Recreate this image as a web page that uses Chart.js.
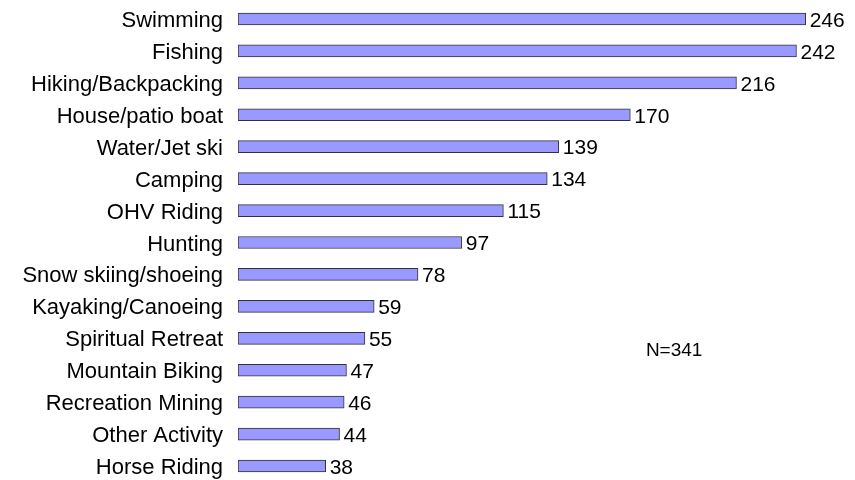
<!DOCTYPE html>
<html>
<head>
<meta charset="utf-8">
<script src="https://cdn.jsdelivr.net/npm/chart.js@4"></script>
<style>
  html, body { margin: 0; padding: 0; background: #fff; overflow: hidden; }
  canvas { display: block; }
</style>
</head>
<body>
<canvas id="activityChart" width="855" height="485"></canvas>
<script>
const activities = ['Swimming', 'Fishing', 'Hiking/Backpacking', 'House/patio boat', 'Water/Jet ski',
  'Camping', 'OHV Riding', 'Hunting', 'Snow skiing/shoeing', 'Kayaking/Canoeing',
  'Spiritual Retreat', 'Mountain Biking', 'Recreation Mining', 'Other Activity', 'Horse Riding'];
const counts = [246, 242, 216, 170, 139, 134, 115, 97, 78, 59, 55, 47, 46, 44, 38];
const sampleNote = 'N=341';

const FONT = 'Liberation Sans, Arial, sans-serif';

// draws the number next to each bar + the N= note
const valueLabels = {
  id: 'valueLabels',
  afterDatasetsDraw(chart) {
    const ctx = chart.ctx;
    const meta = chart.getDatasetMeta(0);
    ctx.save();
    ctx.font = '21px ' + FONT;
    ctx.fillStyle = '#000';
    ctx.textBaseline = 'middle';
    ctx.textAlign = 'left';
    meta.data.forEach((bar, i) => {
      ctx.fillText(String(counts[i]), bar.x + 4, bar.y + 2);
    });
    const xs = chart.scales.x, ys = chart.scales.y;
    ctx.font = '19px ' + FONT;
    ctx.textAlign = 'center';
    ctx.fillText(sampleNote, xs.getPixelForValue(189), ys.getPixelForValue(10.4));
    ctx.restore();
  }
};

new Chart('activityChart', {
  type: 'bar',
  data: {
    labels: activities,
    datasets: [{
      data: counts,
      backgroundColor: '#9999ff',
      borderColor: '#333333',
      borderWidth: 1,
      borderSkipped: false,
      barThickness: 12
    }]
  },
  options: {
    indexAxis: 'y',
    responsive: false,
    animation: false,
    layout: { padding: { top: 3, right: 17, bottom: 3, left: 0 } },
    scales: {
      x: {
        min: 0, max: 260,
        display: false
      },
      y: {
        grid: { display: false, drawTicks: false },
        border: { display: false },
        ticks: { color: '#000', font: { family: FONT, size: 22 }, padding: 15, labelOffset: 2 },
        afterFit(scale) {
          scale.width = 238;
          // labels sit inside the offset rows, no extra room needed
          scale.paddingTop = 0;
          scale.paddingBottom = 0;
        }
      }
    },
    plugins: {
      legend: { display: false },
      tooltip: { enabled: false }
    }
  },
  plugins: [valueLabels]
});
</script>
</body>
</html>
